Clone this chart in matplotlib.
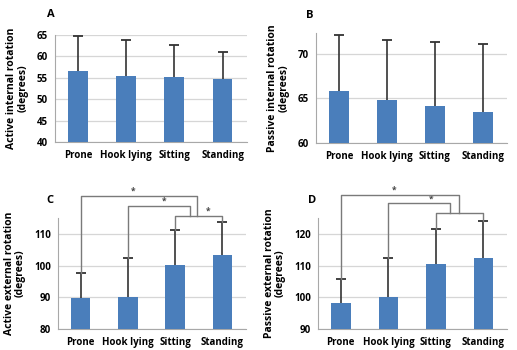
import matplotlib
matplotlib.use('Agg')
import matplotlib.pyplot as plt
import numpy as np

plt.rcParams['font.family'] = ['Open Sans', 'DejaVu Sans']
plt.rcParams['font.weight'] = 'bold'

categories = ['Prone', 'Hook lying', 'Sitting', 'Standing']

# panel values (mean) and SD (upper error only)
a_mean = [56.5, 55.5, 55.1, 54.8]
a_sd = [8.3, 8.3, 7.5, 6.3]
b_mean = [65.8, 64.8, 64.2, 63.5]
b_sd = [6.3, 6.8, 7.1, 7.6]
c_mean = [89.9, 90.2, 100.1, 103.4]
c_sd = [7.7, 12.1, 11.2, 10.3]
d_mean = [98.2, 100.0, 110.6, 112.3]
d_sd = [7.6, 12.3, 11.1, 11.9]

bar_color = '#4a7ebb'
grid_color = '#d6d6d6'
err_color = '#333333'

fig = plt.figure(figsize=(5.17, 3.5), dpi=100)


def panel(rect, means, sds, ylim, ticks, ylabel, letter, lpos):
    ax = fig.add_axes(rect)
    x = np.arange(len(categories))
    ax.bar(x, means, width=0.41, color=bar_color, zorder=3)
    tops = np.array(means) + np.array(sds)
    ax.vlines(x, means, tops, color=err_color, linewidth=1.2, zorder=4)
    ax.plot(x, tops, linestyle='none', marker='_', markersize=7,
            markeredgewidth=1.3, color=err_color, zorder=4, clip_on=False)
    ax.set_xlim(-0.48, 3.5)
    ax.set_ylim(*ylim)
    ax.set_yticks(ticks)
    ax.yaxis.grid(True, color=grid_color, linewidth=0.9, zorder=0)
    ax.set_axisbelow(True)
    for s in ['top', 'right']:
        ax.spines[s].set_visible(False)
    ax.spines['left'].set_color('#a8a8a8')
    ax.spines['bottom'].set_color('#a8a8a8')
    ax.set_xticks(x)
    ax.set_xticklabels(categories, fontsize=7, fontweight='bold')
    ax.tick_params(axis='both', length=0, labelsize=7, pad=6)
    ax.tick_params(axis='y', pad=5)
    ax.set_ylabel(ylabel, fontsize=7.5, fontweight='bold', linespacing=1.0, labelpad=6)
    ax.text(lpos[0], lpos[1], letter, transform=ax.transAxes, fontsize=8,
            fontweight='bold', ha='center', va='center')
    return ax


def bracket(ax, pts, star=None):
    xs, ys = zip(*pts)
    ax.plot(xs, ys, color='#7a7a7a', linewidth=1.0, clip_on=False, zorder=5)
    if star is not None:
        ax.text(star[0], star[1], '*', fontsize=6, ha='center', va='bottom',
                color='#444444', clip_on=False)


axA = panel([0.106, 0.594, 0.371, 0.306], a_mean, a_sd, (40, 65),
            [40, 45, 50, 55, 60, 65], 'Active internal rotation\n(degrees)', 'A',
            (-0.02, 1.19))
axB = panel([0.611, 0.591, 0.369, 0.314], b_mean, b_sd, (60, 72.3),
            [60, 65, 70], 'Passive internal rotation\n(degrees)', 'B',
            (-0.03, 1.16))
axC = panel([0.112, 0.06, 0.364, 0.317], c_mean, c_sd, (80, 115),
            [80, 90, 100, 110], 'Active external rotation\n(degrees)', 'C',
            (-0.04, 1.16))
axD = panel([0.615, 0.06, 0.366, 0.317], d_mean, d_sd, (90, 125),
            [90, 100, 110, 120], 'Passive external rotation\n(degrees)', 'D',
            (-0.03, 1.16))

# significance brackets, panel C
ct = [m + s for m, s in zip(c_mean, c_sd)]
bracket(axC, [(2, ct[2]), (2, 115.8), (3, 115.8), (3, ct[3])], star=(2.7, 115.9))
bracket(axC, [(1, ct[1]), (1, 118.9), (2.32, 118.9), (2.32, 115.8)], star=(1.77, 119.0))
bracket(axC, [(0, ct[0]), (0, 121.9), (2.47, 121.9), (2.47, 115.8)], star=(1.1, 122.0))

# significance brackets, panel D
dt = [m + s for m, s in zip(d_mean, d_sd)]
bracket(axD, [(2, dt[2]), (2, 126.5), (3, 126.5), (3, dt[3])])
bracket(axD, [(1, dt[1]), (1, 129.6), (2.3, 129.6), (2.3, 126.5)], star=(1.89, 129.7))
bracket(axD, [(0, dt[0]), (0, 132.4), (2.49, 132.4), (2.49, 126.5)], star=(1.12, 132.5))

fig.savefig('out.png', dpi=100)
